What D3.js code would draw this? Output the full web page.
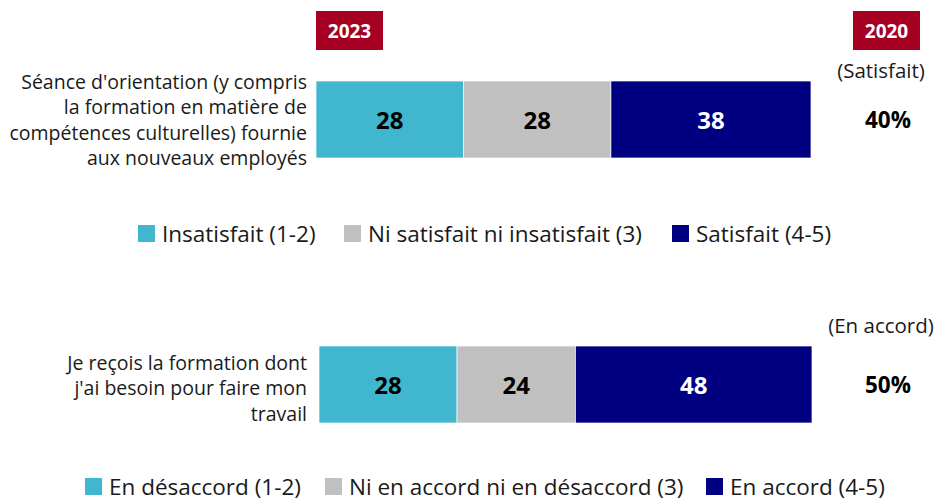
<!DOCTYPE html>
<html>
<head>
<meta charset="utf-8">
<script src="https://cdn.jsdelivr.net/npm/d3@7"></script>
<style>
  body { margin: 0; background: #fff; }
  svg { font-family: "Open Sans", sans-serif; }
</style>
</head>
<body>
<div id="chart"></div>
<script>
const categories1 = ["Insatisfait (1-2)", "Ni satisfait ni insatisfait (3)", "Satisfait (4-5)"];
const values1 = [28, 28, 38];
const label1 = ["Séance d'orientation (y compris", "la formation en matière de", "compétences culturelles) fournie", "aux nouveaux employés"];
const prev1 = "40%";
const prevLabel1 = "(Satisfait)";

const categories2 = ["En désaccord (1-2)", "Ni en accord ni en désaccord (3)", "En accord (4-5)"];
const values2 = [28, 24, 48];
const label2 = ["Je reçois la formation dont", "j'ai besoin pour faire mon", "travail"];
const prev2 = "50%";
const prevLabel2 = "(En accord)";

const colors = ["#40B7CE", "#C0C0C0", "#000080"];
const textColors = ["#000", "#000", "#fff"];
const badgeColor = "#A50021";

const width = 938;
const height = 500;

const svg = d3.select('#chart')
  .append('svg')
  .attr('width', width)
  .attr('height', height);

// year badges
[["2023", 316], ["2020", 853]].forEach(([year, x]) => {
  svg.append('rect')
    .attr('x', x).attr('y', 11)
    .attr('width', 67).attr('height', 39)
    .attr('fill', badgeColor);
  svg.append('text')
    .attr('x', x + 33.5).attr('y', 31)
    .attr('text-anchor', 'middle')
    .attr('dominant-baseline', 'central')
    .attr('fill', '#fff')
    .attr('font-weight', 'bold')
    .attr('font-size', 19)
    .text(year);
});

function drawBlock(cfg) {
  const g = svg.append('g');

  const total = d3.sum(cfg.values);
  const x = d3.scaleLinear()
    .domain([0, total])
    .range([cfg.x0, cfg.x1]);

  const stacked = [];
  let acc = 0;
  cfg.values.forEach((v, i) => {
    stacked.push({ start: acc, end: acc + v, value: v, i });
    acc += v;
  });

  g.selectAll('rect.seg')
    .data(stacked)
    .enter()
    .append('rect')
    .attr('class', 'seg')
    .attr('x', d => x(d.start))
    .attr('y', cfg.y)
    .attr('width', d => x(d.end) - x(d.start))
    .attr('height', cfg.h)
    .attr('fill', d => colors[d.i])
    .attr('stroke', '#fff')
    .attr('stroke-width', 0.7);

  g.selectAll('text.val')
    .data(stacked)
    .enter()
    .append('text')
    .attr('class', 'val')
    .attr('x', d => (x(d.start) + x(d.end)) / 2)
    .attr('y', cfg.y + cfg.h / 2)
    .attr('text-anchor', 'middle')
    .attr('dominant-baseline', 'central')
    .attr('font-weight', 'bold')
    .attr('font-size', 24)
    .attr('fill', d => textColors[d.i])
    .text(d => d.value);

  // row label
  const lbl = g.append('text')
    .attr('text-anchor', 'end')
    .attr('font-size', 19.5)
    .attr('fill', '#1a1a1a');
  cfg.label.forEach((line, k) => {
    lbl.append('tspan')
      .attr('x', 307)
      .attr('y', cfg.labelY + k * 25.5)
      .attr('dominant-baseline', 'central')
      .text(line);
  });

  // previous year value
  g.append('text')
    .attr('x', 881).attr('y', cfg.prevLabelY)
    .attr('text-anchor', 'middle')
    .attr('dominant-baseline', 'central')
    .attr('font-size', 20.5)
    .attr('fill', '#1a1a1a')
    .text(cfg.prevLabel);
  g.append('text')
    .attr('x', 888).attr('y', cfg.y + cfg.h / 2)
    .attr('text-anchor', 'middle')
    .attr('dominant-baseline', 'central')
    .attr('font-weight', 'bold')
    .attr('font-size', 22.5)
    .attr('fill', '#000')
    .text(cfg.prev);

  // legend
  const legend = g.append('g');
  cfg.categories.forEach((c, i) => {
    const lx = cfg.legendX[i];
    legend.append('rect')
      .attr('x', lx).attr('y', cfg.legendY - 8)
      .attr('width', 17).attr('height', 17)
      .attr('fill', colors[i]);
    legend.append('text')
      .attr('x', lx + 24).attr('y', cfg.legendY)
      .attr('dominant-baseline', 'central')
      .attr('font-size', 22.5)
      .attr('fill', '#1a1a1a')
      .text(c);
  });
}

drawBlock({
  values: values1, categories: categories1, label: label1,
  prev: prev1, prevLabel: prevLabel1,
  x0: 316, x1: 811, y: 81, h: 77,
  labelY: 81, prevLabelY: 70,
  legendY: 233, legendX: [138, 344, 672]
});

drawBlock({
  values: values2, categories: categories2, label: label2,
  prev: prev2, prevLabel: prevLabel2,
  x0: 319, x1: 812, y: 346, h: 77,
  labelY: 362, prevLabelY: 325,
  legendY: 486, legendX: [85, 325, 706]
});
</script>
</body>
</html>
